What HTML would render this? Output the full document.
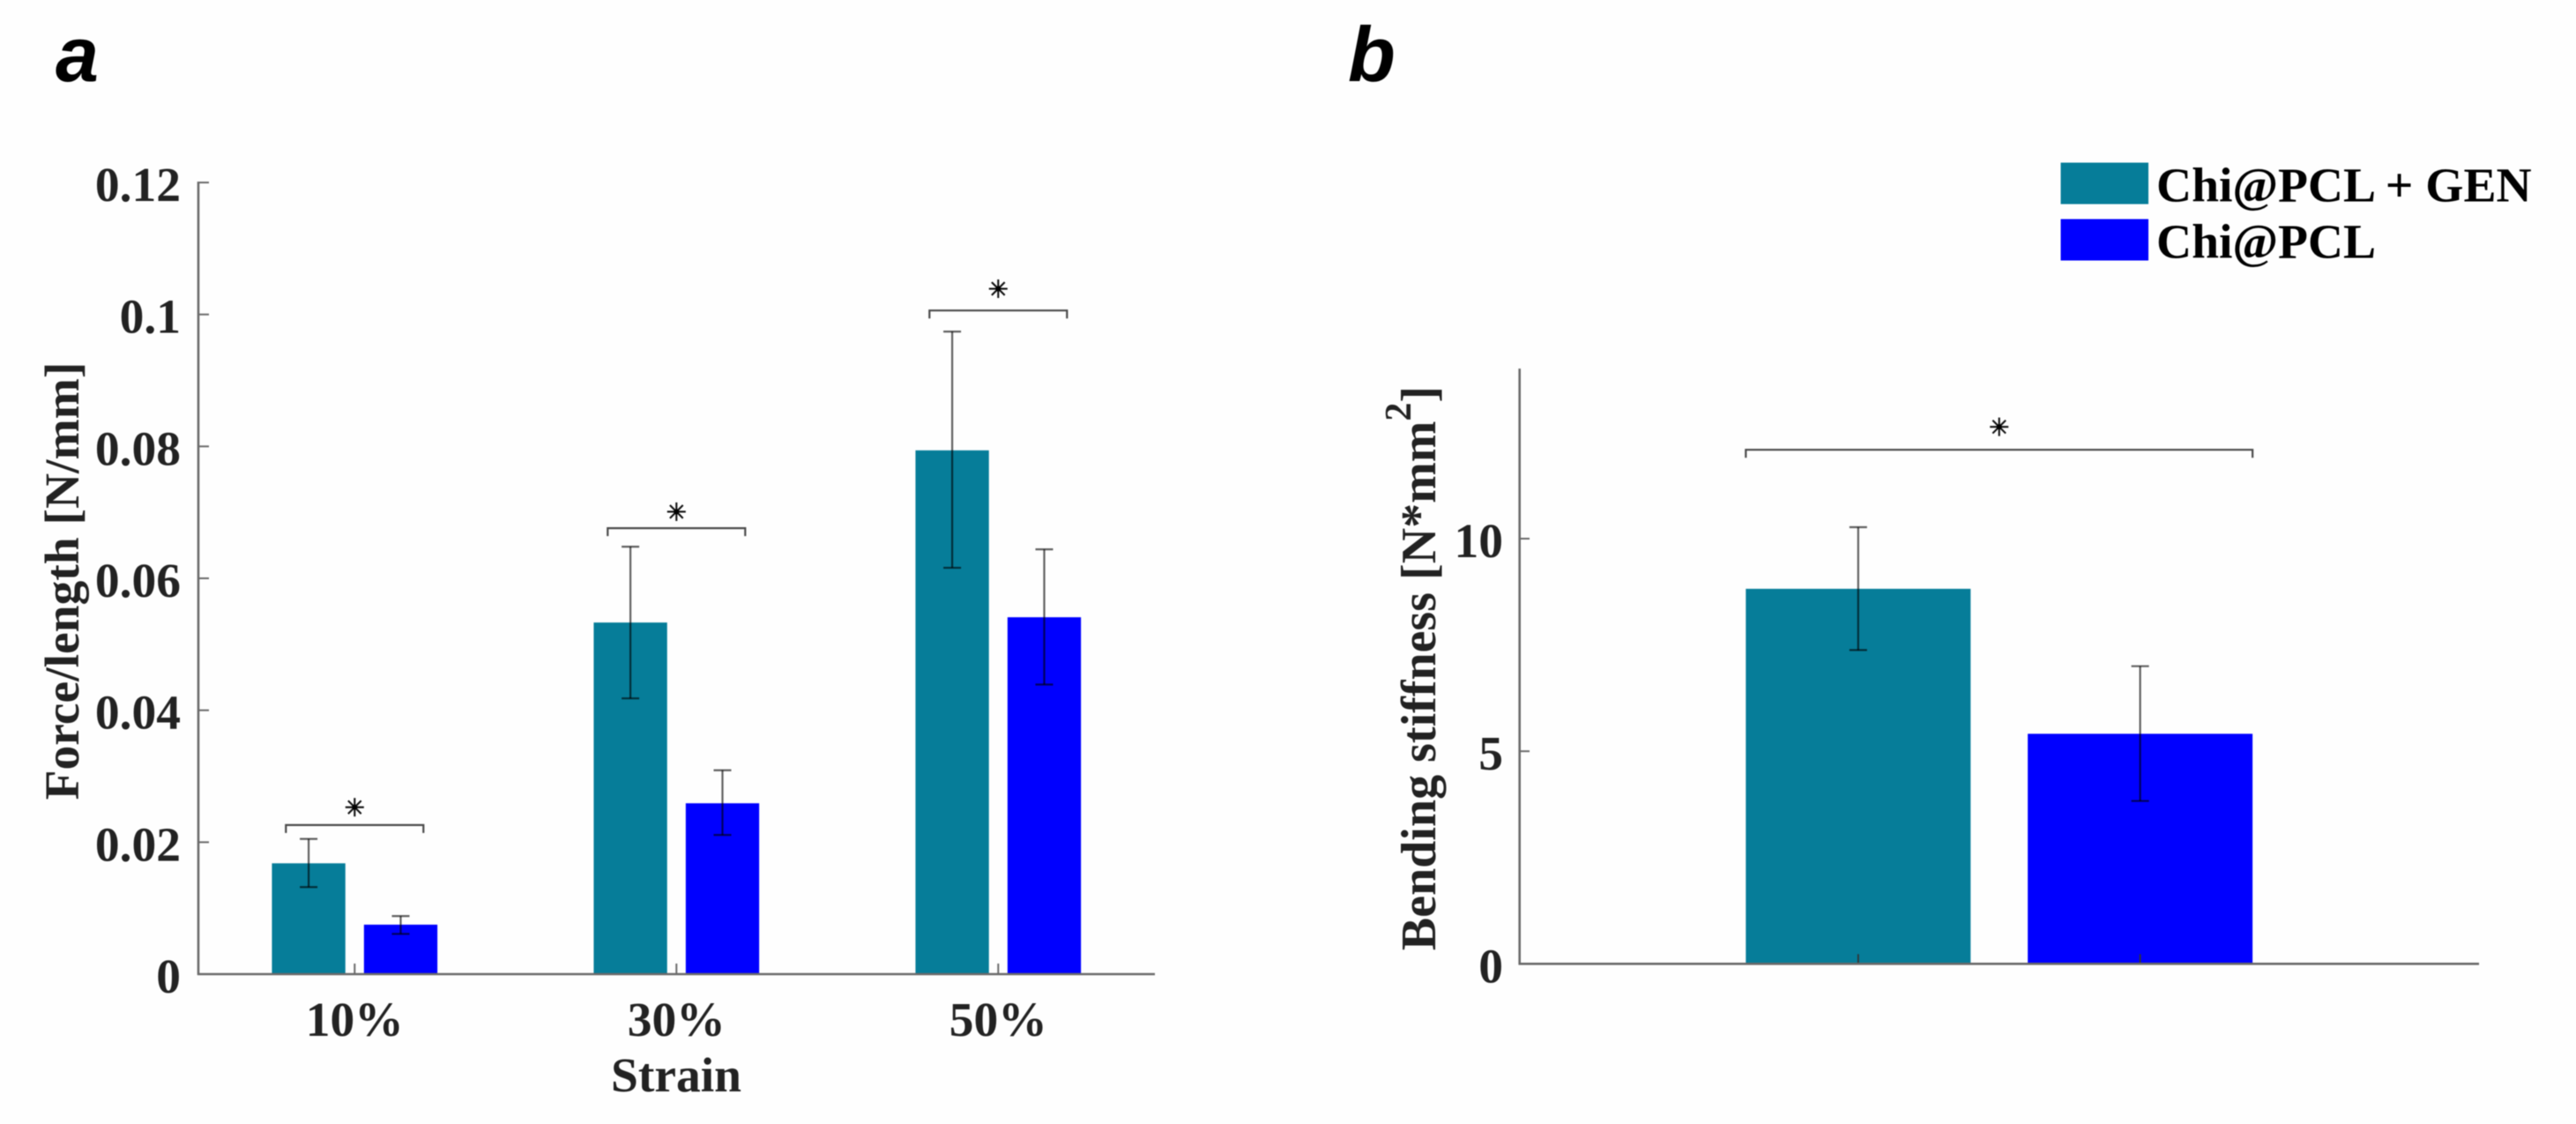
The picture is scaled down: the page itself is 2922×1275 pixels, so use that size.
<!DOCTYPE html>
<html lang="en">
<head>
<meta charset="utf-8">
<title>Force/length and bending stiffness bar charts</title>
<style>
  html, body { margin: 0; padding: 0; background: #fefefe; }
  #figure { display: block; width: 2922px; height: 1275px; filter: blur(0.6px); }
  text { font-family: "Liberation Serif", serif; font-weight: bold; fill: #222; }
  .panel-letter { font-family: "Liberation Sans", sans-serif; font-style: italic; font-weight: bold; font-size: 88px; fill: #000; }
  .label { font-size: 55.5px; }
  .legend-text { font-size: 55.5px; fill: #000; }
</style>
</head>
<body>
<svg id="figure" xmlns="http://www.w3.org/2000/svg" width="2922" height="1275" viewBox="0 0 2922 1275">
  <rect x="0" y="0" width="2922" height="1275" fill="#fefefe"/>
  <text class="panel-letter" x="63" y="92">a</text>
  <text class="panel-letter" x="1529" y="92">b</text>

  <g id="panel-a"></g>
  <g id="panel-b"></g>

  <text class="label" x="89" y="659" text-anchor="middle" transform="rotate(-90 89 659)">Force/length [N/mm]</text>
  <text class="label" x="767" y="1238" text-anchor="middle">Strain</text>
  <text class="label" x="1628" y="758" text-anchor="middle" transform="rotate(-90 1628 758)" style="font-size:56px">Bending stiffness [N*mm<tspan font-size="42" dy="-28">2</tspan><tspan dy="28">]</tspan></text>

  <g>
    <rect x="2337.5" y="184.5" width="99.5" height="47" fill="#067d99"/>
    <text class="legend-text" x="2446" y="228.5">Chi@PCL + GEN</text>
    <rect x="2337.5" y="248.5" width="99.5" height="47" fill="#0000ff"/>
    <text class="legend-text" x="2446" y="292.5">Chi@PCL</text>
  </g>
</svg>
<script>
// Panel a data
const strainLabels = ['10%', '30%', '50%'];
const forceTickValues = [0, 0.02, 0.04, 0.06, 0.08, 0.1, 0.12];
const forceTickLabels = ['0', '0.02', '0.04', '0.06', '0.08', '0.1', '0.12'];
const forceGen = [0.0168, 0.0533, 0.0794];
const forceGenLow = [0.0132, 0.0418, 0.0616];
const forceGenHigh = [0.0205, 0.0648, 0.0974];
const forceChi = [0.0075, 0.0259, 0.0541];
const forceChiLow = [0.0061, 0.0211, 0.0439];
const forceChiHigh = [0.0088, 0.0309, 0.0644];
const forceBracket = [0.0226, 0.0676, 0.1006];
const forceStar = [0.0253, 0.0701, 0.1039];

// Panel b data
const stiffnessTickValues = [0, 5, 10];
const stiffnessTickLabels = ['0', '5', '10'];
const stiffnessValues = [8.82, 5.41];
const stiffnessLow = [7.38, 3.83];
const stiffnessHigh = [10.27, 7.0];
const stiffnessBracket = [12.09];
const stiffnessStar = [12.63];

const TEAL = '#067d99';
const BLUE = '#0000ff';
const AXIS = '#6a6a6a';
const NS = 'http://www.w3.org/2000/svg';

function make(parent, tag, props) {
  const el = document.createElementNS(NS, tag);
  for (const k in props) el.setAttribute(k, props[k]);
  parent.appendChild(el);
  return el;
}

// Axis functions
function forceX(i) { return 402.3 + 365 * i; }
function forceY(v) { return 1105 - 7483 * v; }
function stiffX(i) { return 2107.8 + 319.8 * i; }
function stiffY(v) { return 1093.3 - 48.23 * v; }

function drawError(parent, x, yLow, yHigh) {
  const g = make(parent, 'g', { stroke: '#000', 'stroke-opacity': 0.62, 'stroke-width': 2.2, fill: 'none' });
  
  
  make(g, 'line', { x1: x, x2: x, y1: yHigh, y2: yLow });
  make(g, 'line', { x1: x - 10, x2: x + 10, y1: yHigh, y2: yHigh });
  make(g, 'line', { x1: x - 10, x2: x + 10, y1: yLow, y2: yLow });
}

function drawBracket(parent, x1, x2, y) {
  const p = make(parent, 'polyline', {
    points: x1 + ',' + (y + 9) + ' ' + x1 + ',' + y + ' ' + x2 + ',' + y + ' ' + x2 + ',' + (y + 9),
    fill: 'none', stroke: '#4a4a4a', 'stroke-width': 2.2
  });
  
  
}

function drawStar(parent, x, y) {
  const g = make(parent, 'g', { stroke: '#111', 'stroke-width': 2.1 });
  
  
  const r = 10.5, d = 7.4;
  make(g, 'line', { x1: x - r, x2: x + r, y1: y, y2: y });
  make(g, 'line', { x1: x, x2: x, y1: y - r, y2: y + r });
  make(g, 'line', { x1: x - d, x2: x + d, y1: y - d, y2: y + d });
  make(g, 'line', { x1: x - d, x2: x + d, y1: y + d, y2: y - d });
  make(g, 'circle', { cx: x, cy: y, r: 3, fill: '#000', stroke: 'none' });
}

function drawPanelA() {
  const root = document.getElementById('panel-a');
  const barW = 83.3, off = 52.2;
  strainLabels.forEach(function (label, i) {
    const cx = forceX(i);
    const teal = make(root, 'rect', { x: cx - off - barW / 2, y: forceY(forceGen[i]), width: barW, height: forceY(0) - forceY(forceGen[i]), fill: TEAL });
    
    
    const blue = make(root, 'rect', { x: cx + off - barW / 2, y: forceY(forceChi[i]), width: barW, height: forceY(0) - forceY(forceChi[i]), fill: BLUE });
    
    
    drawError(root, cx - off, forceY(forceGenLow[i]), forceY(forceGenHigh[i]));
    drawError(root, cx + off, forceY(forceChiLow[i]), forceY(forceChiHigh[i]));
    drawBracket(root, cx - 78, cx + 78, forceY(forceBracket[i]));
    drawStar(root, cx, forceY(forceStar[i]));

    const tick = make(root, 'line', { x1: cx, x2: cx, y1: forceY(0), y2: forceY(0) - 12, stroke: AXIS, 'stroke-width': 2 });
    
    
    const t = make(root, 'text', { x: cx, y: 1175, 'text-anchor': 'middle', class: 'label' });
    t.textContent = label;
    
    
  });

  const yAxis = make(root, 'line', { x1: 225, x2: 225, y1: forceY(0.12) - 1, y2: forceY(0) + 1, stroke: AXIS, 'stroke-width': 2.6 });
  
  
  const xAxis = make(root, 'line', { x1: 224, x2: 1310, y1: forceY(0), y2: forceY(0), stroke: AXIS, 'stroke-width': 2.6 });
  
  

  forceTickValues.forEach(function (v, i) {
    const tick = make(root, 'line', { x1: 225, x2: 237, y1: forceY(v), y2: forceY(v), stroke: AXIS, 'stroke-width': 2 });
    
    
    const t = make(root, 'text', { x: 205, y: forceY(v) + 21, 'text-anchor': 'end', class: 'label' });
    t.textContent = forceTickLabels[i];
    
    
  });
}

function drawPanelB() {
  const root = document.getElementById('panel-b');
  const barW = 255;
  const fills = [TEAL, BLUE];
  stiffnessValues.forEach(function (v, i) {
    const cx = stiffX(i);
    const bar = make(root, 'rect', { x: cx - barW / 2, y: stiffY(v), width: barW, height: stiffY(0) - stiffY(v), fill: fills[i] });
    
    
    drawError(root, cx, stiffY(stiffnessLow[i]), stiffY(stiffnessHigh[i]));
    const tick = make(root, 'line', { x1: cx, x2: cx, y1: stiffY(0), y2: stiffY(0) - 11, stroke: '#333', 'stroke-width': 1.8 });
    
    
  });
  const left = stiffX(0) - barW / 2;
  const right = stiffX(1) + barW / 2;
  drawBracket(root, left, right, stiffY(stiffnessBracket[0]));
  drawStar(root, (left + right) / 2, stiffY(stiffnessStar[0]));

  const yAxis = make(root, 'line', { x1: 1723.7, x2: 1723.7, y1: stiffY(14), y2: stiffY(0) + 1, stroke: AXIS, 'stroke-width': 2.6 });
  
  
  const xAxis = make(root, 'line', { x1: 1722.5, x2: 2812, y1: stiffY(0), y2: stiffY(0), stroke: AXIS, 'stroke-width': 2.6 });
  
  

  stiffnessTickValues.forEach(function (v, i) {
    const tick = make(root, 'line', { x1: 1723.7, x2: 1735, y1: stiffY(v), y2: stiffY(v), stroke: AXIS, 'stroke-width': 2 });
    
    
    const t = make(root, 'text', { x: 1705, y: stiffY(v) + 21, 'text-anchor': 'end', class: 'label' });
    t.textContent = stiffnessTickLabels[i];
    
    
  });
}

drawPanelA();
drawPanelB();
</script>
</body>
</html>
